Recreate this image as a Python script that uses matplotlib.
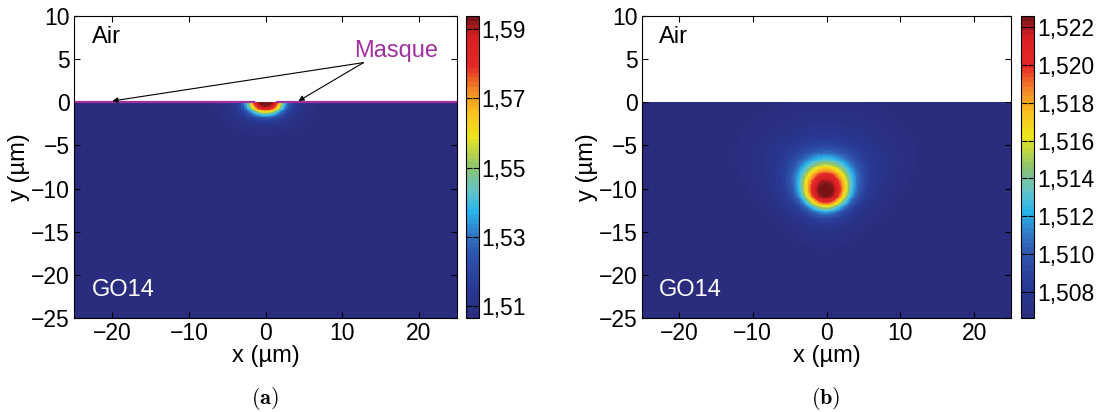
import matplotlib
matplotlib.use("Agg")

import matplotlib.pyplot as plt
import numpy as np
from matplotlib.colors import LinearSegmentedColormap

plt.rcParams["font.family"] = ["Liberation Sans", "DejaVu Sans"]
plt.rcParams["mathtext.fontset"] = "cm"

# axes ranges and ticks
xlim = (-25, 25)
ylim = (-25, 10)
xt = [-20, -10, 0, 10, 20]
yt = [10, 5, 0, -5, -10, -15, -20, -25]

# substrate index (bottom of both colour bars)
ns = 1.5066

# (a) surface exchange through the mask opening
na_peak = 1.5938
mask_open = (-1.5, 1.5)      # opening in the mask, um
a_wx = 2.2                   # lateral width, um
a_wy = 1.3                   # depth, um
a_p = 3.8
cb_a = [1.51, 1.53, 1.55, 1.57, 1.59]

# (b) buried guide
nb_peak = 1.5226
b_xc, b_yc = -0.1, -10.35
b_wx = 3.05
b_wy_top = 3.3
b_wy_bot = 1.95
b_p = 3.4
cb_b = [1.508, 1.510, 1.512, 1.514, 1.516, 1.518, 1.520, 1.522]

# muted jet as it appears in the figure
jet_pos = [0.0, 0.1, 0.2, 0.26, 0.35, 0.42, 0.5, 0.6, 0.68, 0.76, 0.84, 0.94, 1.0]
jet_rgb = [(42, 45, 125), (40, 57, 148), (45, 82, 172), (50, 110, 190),
           (40, 180, 235), (100, 195, 200), (140, 195, 110), (235, 230, 30),
           (250, 195, 30), (242, 135, 40), (228, 40, 38), (215, 30, 35),
           (120, 20, 22)]
cm = LinearSegmentedColormap.from_list(
    "mjet", [(p, tuple(c / 255 for c in rgb)) for p, rgb in zip(jet_pos, jet_rgb)], N=64)

purple = "#a0309e"

x = np.linspace(xlim[0], xlim[1], 501)
y = np.linspace(ylim[0], ylim[1], 351)
X, Y = np.meshgrid(x, y)

ra = np.sqrt((X / a_wx) ** 2 + (Y / a_wy) ** 2)
na = ns + (na_peak - ns) / (1 + ra ** a_p)
na = np.ma.masked_where(Y > 0, na)

wy = np.where(Y > b_yc, b_wy_top, b_wy_bot)
wx = b_wx * np.clip(1 + 0.07 * (Y - b_yc), 0.7, 1.35)
rb = np.sqrt(((X - b_xc) / wx) ** 2 + ((Y - b_yc) / wy) ** 2)
nb = ns + (nb_peak - ns) / (1 + rb ** b_p)
nb = np.ma.masked_where(Y > 0, nb)

fig = plt.figure(figsize=(10.99, 4.12), dpi=100)

W, H = 1099, 412


def box(l, r, t, b):
    return [l / W, (H - b) / H, (r - l) / W, (b - t) / H]


def style(ax, wpx):
    ax.set_xlim(*xlim)
    ax.set_ylim(*ylim)
    ax.set_xticks(xt)
    ax.set_yticks(yt)
    ax.tick_params(direction="in", top=True, right=True, length=4, width=0.8,
                   labelsize=16.5, pad=3)
    for s in ax.spines.values():
        s.set_linewidth(0.8)
    ax.set_xlabel("x (µm)", fontsize=17)
    ax.set_ylabel("y (µm)", fontsize=17)
    ax.xaxis.set_label_coords(0.5, -0.125)
    ax.xaxis.label.set_va("center")
    ax.yaxis.set_label_coords(-55 / wpx, 0.5)
    ax.yaxis.label.set_va("center")
    ax.text(-22.7, 7.6, "Air", fontsize=17, va="center", ha="left")
    ax.text(-22.7, -21.8, "GO14", fontsize=17, va="center", ha="left", color="white")


def cbar(mesh, pos, ticks, fmt):
    cax = fig.add_axes(pos)
    cb = fig.colorbar(mesh, cax=cax, ticks=ticks)
    cb.ax.set_yticklabels([fmt.format(t).replace(".", ",") for t in ticks])
    cb.ax.tick_params(direction="in", left=True, right=True, length=4, width=0.8,
                      labelsize=16.5, pad=2)
    cb.outline.set_linewidth(0.8)
    return cb


# (a)
ax1 = fig.add_axes(box(74, 457, 16, 318))
m1 = ax1.pcolormesh(X, Y, na, cmap=cm, vmin=ns, vmax=na_peak, shading="auto")
style(ax1, 457 - 74)
ax1.plot([xlim[0], mask_open[0]], [0, 0], color=purple, lw=1.6)
ax1.plot([mask_open[1], xlim[1]], [0, 0], color=purple, lw=1.6)
ax1.text(11.6, 5.9, "Masque", fontsize=17, color=purple, va="center", ha="left")
for tx in (-20.0, 4.3):
    ax1.annotate("", xy=(tx, 0.15), xytext=(12.8, 4.6),
                 arrowprops=dict(arrowstyle="-|>", color="black", lw=0.8,
                                 mutation_scale=8, shrinkA=0, shrinkB=0))
cbar(m1, box(466, 478.5, 16, 318), cb_a, "{:.2f}")
fig.text(265 / W, 1 - 398 / H, r"$\mathbf{(a)}$", fontsize=16, ha="center", va="center")

# (b)
ax2 = fig.add_axes(box(642, 1011, 16, 318))
m2 = ax2.pcolormesh(X, Y, nb, cmap=cm, vmin=ns, vmax=nb_peak, shading="auto")
style(ax2, 1011 - 642)
cbar(m2, box(1021, 1034, 16, 318), cb_b, "{:.3f}")
fig.text(826 / W, 1 - 398 / H, r"$\mathbf{(b)}$", fontsize=16, ha="center", va="center")

fig.savefig("out.png", dpi=100)
